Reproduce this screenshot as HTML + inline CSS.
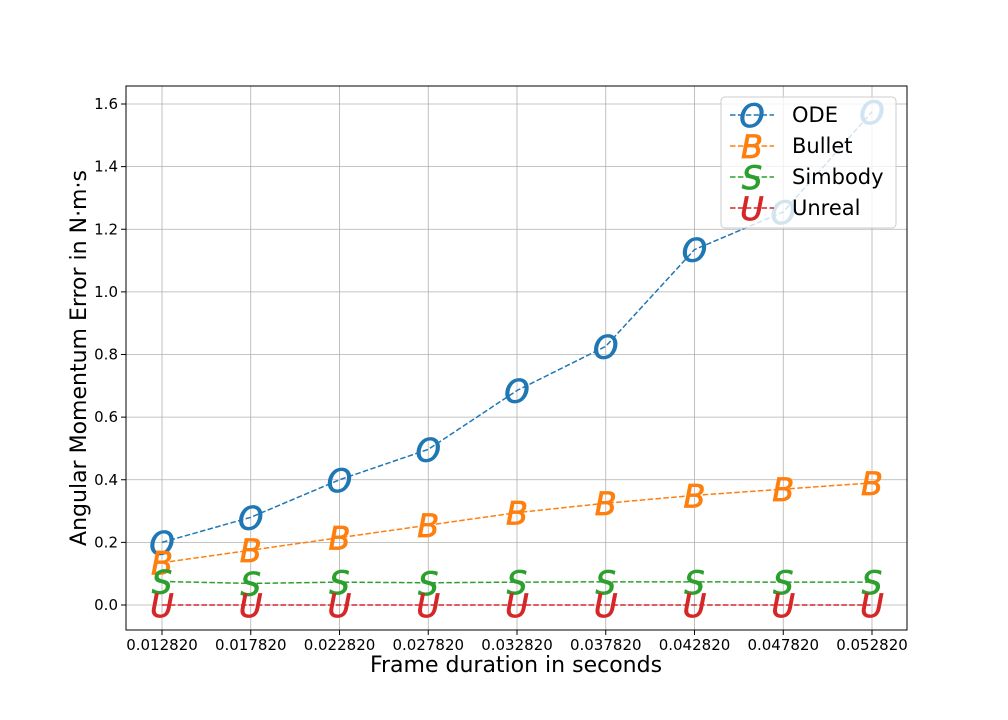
<!DOCTYPE html>
<html><head><meta charset="utf-8"><style>
body{margin:0;background:#fff}
svg{display:block;font-family:"DejaVu Sans","Liberation Sans",sans-serif}
</style></head><body>
<svg id="chart" width="1008" height="720" viewBox="0 0 1008 720">
<rect x="0" y="0" width="1008" height="720" fill="#fff"/>
<g id="grid"></g>
<g id="series"></g>
<rect x="126" y="86" width="781" height="544" fill="none" stroke="#000" stroke-width="1"/>
<g id="ticks" font-size="15"></g>
<text x="516" y="672" font-size="22" text-anchor="middle">Frame duration in seconds</text>
<text transform="translate(86,358) rotate(-90)" font-size="22" text-anchor="middle">Angular Momentum Error in N·m·s</text>
<g id="legend"></g>
</svg>
<script>
const categories=["0.012820","0.017820","0.022820","0.027820","0.032820","0.037820","0.042820","0.047820","0.052820"];
const odeValues=[0.2,0.28,0.40,0.497,0.685,0.826,1.135,1.255,1.575];
const bulletValues=[0.135,0.175,0.215,0.255,0.295,0.325,0.35,0.37,0.39];
const simbodyValues=[0.075,0.069,0.073,0.071,0.073,0.074,0.074,0.073,0.073];
const unrealValues=[0,0,0,0,0,0,0,0,0];
const yTicks=[0.0,0.2,0.4,0.6,0.8,1.0,1.2,1.4,1.6];
const seriesNames=["ODE","Bullet","Simbody","Unreal"];
const markers=["O","B","S","U"];
const colors=["#1f77b4","#ff7f0e","#2ca02c","#d62728"];
const NS="http://www.w3.org/2000/svg";
const xS=i=>162+i*(872-162)/(categories.length-1);
const yS=v=>605-v*(605-104)/1.6;
function mk(tag,attrs,parent,text){const e=document.createElementNS(NS,tag);for(const k in attrs)e.setAttribute(k,attrs[k]);if(text!==undefined)e.textContent=text;parent.appendChild(e);return e;}
const grid=document.getElementById('grid'),ticks=document.getElementById('ticks'),ser=document.getElementById('series'),leg=document.getElementById('legend');
categories.forEach((c,i)=>{
 const l=mk('line',{x1:xS(i),x2:xS(i),y1:86,y2:630,stroke:'#b0b0b0','stroke-width':0.8},grid);
 
 
 mk('line',{x1:xS(i),x2:xS(i),y1:630,y2:635,stroke:'#000'},ticks);
 const t=mk('text',{x:xS(i),y:650,'text-anchor':'middle'},ticks,c);
 
 
});
yTicks.forEach(v=>{
 const l=mk('line',{x1:126,x2:907,y1:yS(v),y2:yS(v),stroke:'#b0b0b0','stroke-width':0.8},grid);
 
 
 mk('line',{x1:121,x2:126,y1:yS(v),y2:yS(v),stroke:'#000'},ticks);
 const t=mk('text',{x:118,y:yS(v)+5,'text-anchor':'end'},ticks,v.toFixed(1));
 
 
});
const mAttr=(x,y,c)=>({x:x,y:y+12,'text-anchor':'middle','font-size':32,'font-style':'italic',fill:c,stroke:c,'stroke-width':0.8});
[odeValues,bulletValues,simbodyValues,unrealValues].forEach((vals,s)=>{
 const g=mk('g',{},ser);
 
 
 mk('polyline',{points:vals.map((v,i)=>xS(i)+','+yS(v)).join(' '),fill:'none',stroke:colors[s],'stroke-width':1.5,'stroke-dasharray':'5.5,2.4'},g);
 vals.forEach((v,i)=>{
  const t=mk('text',mAttr(xS(i),yS(v),colors[s]),g,markers[s]);
  
  
 });
});
mk('rect',{x:721,y:97,width:175,height:131,rx:4,fill:'#fff','fill-opacity':0.8,stroke:'#ccc'},leg);
seriesNames.forEach((n,s)=>{
 const y=115+s*31;
 const g=mk('g',{},leg);
 
 
 mk('line',{x1:730,x2:774,y1:y,y2:y,stroke:colors[s],'stroke-width':1.5,'stroke-dasharray':'5.5,2.4'},g);
 mk('text',mAttr(752,y,colors[s]),g,markers[s]);
 mk('text',{x:792,y:y+7,'font-size':21,fill:'#000'},g,n);
});
</script>
</body></html>
